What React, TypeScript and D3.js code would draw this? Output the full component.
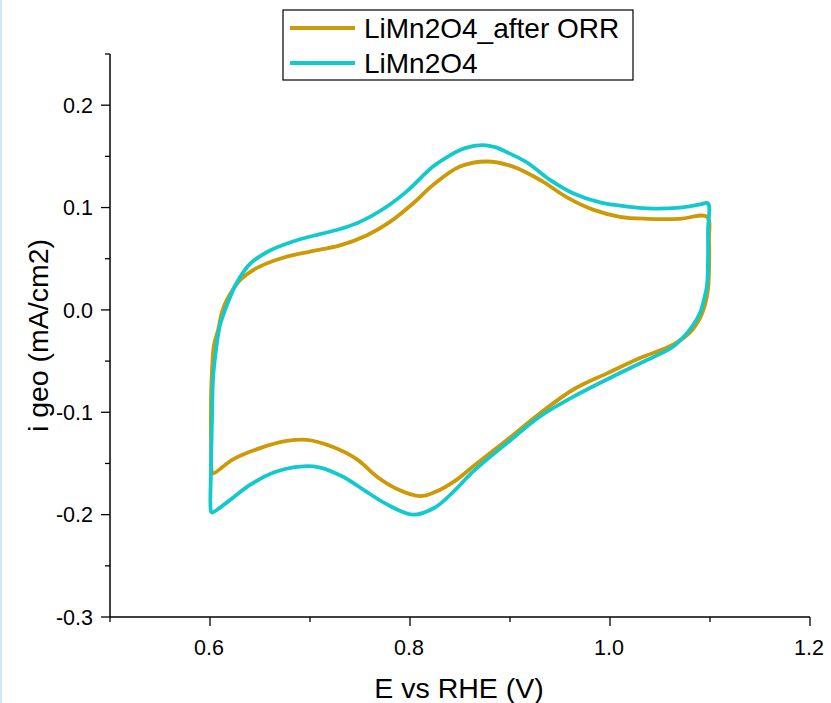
import React from "react";
import * as d3 from "d3";

// LiMn2O4 (pristine) — potential (V vs RHE) and current (mA/cm2), traversed as a closed loop
const pristineE = [0.601, 0.601, 0.602, 0.603, 0.606, 0.610, 0.617, 0.627, 0.640, 0.660, 0.690, 0.710, 0.730, 0.750, 0.777, 0.797, 0.823, 0.840, 0.855, 0.872, 0.885, 0.897, 0.917, 0.940, 0.963, 0.990, 1.017, 1.043, 1.070, 1.090, 1.098, 1.098, 1.098, 1.097, 1.094, 1.090, 1.083, 1.074, 1.063, 1.050, 1.037, 1.003, 0.963, 0.930, 0.897, 0.863, 0.843, 0.825, 0.803, 0.777, 0.757, 0.733, 0.710, 0.690, 0.663, 0.640, 0.617, 0.602];
const pristineI = [-0.197, -0.156, -0.107, -0.068, -0.039, -0.015, 0.005, 0.027, 0.045, 0.058, 0.069, 0.074, 0.079, 0.086, 0.101, 0.116, 0.140, 0.151, 0.158, 0.161, 0.159, 0.154, 0.144, 0.127, 0.114, 0.105, 0.101, 0.099, 0.100, 0.103, 0.104, 0.078, 0.049, 0.024, 0.010, -0.003, -0.015, -0.026, -0.036, -0.043, -0.049, -0.065, -0.085, -0.104, -0.130, -0.158, -0.178, -0.193, -0.200, -0.190, -0.178, -0.163, -0.154, -0.153, -0.159, -0.171, -0.188, -0.198];

// LiMn2O4 after ORR
const afterE = [0.602, 0.601, 0.601, 0.602, 0.604, 0.608, 0.612, 0.617, 0.630, 0.647, 0.673, 0.700, 0.730, 0.757, 0.780, 0.803, 0.823, 0.850, 0.877, 0.903, 0.930, 0.957, 0.983, 1.010, 1.037, 1.070, 1.097, 1.099, 1.099, 1.098, 1.095, 1.090, 1.080, 1.063, 1.030, 0.997, 0.963, 0.930, 0.897, 0.863, 0.845, 0.825, 0.810, 0.787, 0.767, 0.747, 0.723, 0.697, 0.677, 0.650, 0.623, 0.603];
const afterI = [-0.159, -0.127, -0.088, -0.059, -0.034, -0.020, -0.002, 0.010, 0.029, 0.041, 0.051, 0.057, 0.063, 0.073, 0.086, 0.104, 0.122, 0.140, 0.145, 0.140, 0.127, 0.110, 0.098, 0.091, 0.089, 0.089, 0.091, 0.068, 0.039, 0.020, 0.005, -0.008, -0.022, -0.034, -0.047, -0.062, -0.078, -0.101, -0.127, -0.153, -0.167, -0.178, -0.182, -0.175, -0.163, -0.146, -0.134, -0.127, -0.128, -0.135, -0.146, -0.160];

const seriesNames = ["LiMn2O4_after ORR", "LiMn2O4"];
const seriesColors = ["#cc9a06", "#12c9cc"];

const xMajorTicks = [0.6, 0.8, 1.0, 1.2];
const xMinorTicks = [0.5, 0.7, 0.9, 1.1];
const yMajorTicks = [-0.3, -0.2, -0.1, 0.0, 0.1, 0.2];
const yMinorTicks = [-0.25, -0.15, -0.05, 0.05, 0.15, 0.25];

const W = 831;
const H = 703;
const FONT = "'Liberation Sans', Arial, sans-serif";

export default function App() {
  const x = d3.scaleLinear().domain([0.5, 1.2]).range([110, 810]);
  const y = d3.scaleLinear().domain([-0.3, 0.25]).range([617, 54]);

  const line = d3
    .line<[number, number]>()
    .x((d) => x(d[0]))
    .y((d) => y(d[1]))
    .curve(d3.curveCatmullRomClosed.alpha(0.5));

  const series = [
    { pts: afterE.map((e, i) => [e, afterI[i]] as [number, number]), color: seriesColors[0] },
    { pts: pristineE.map((e, i) => [e, pristineI[i]] as [number, number]), color: seriesColors[1] },
  ];

  const x0 = x.range()[0];
  const x1 = x.range()[1];
  const yb = y.range()[0];
  const yt = y.range()[1];

  return (
    <svg
      width={W}
      height={H}
      style={{ position: "absolute", left: 0, top: 0, background: "#fff" }}
      fontFamily={FONT}
    >
      <rect x={0} y={0} width={W} height={H} fill="#fff" />
      <rect x={0} y={0} width={2} height={H} fill="#d6e6f6" />

      {series.map((s, i) => (
        <path
          key={i}
          d={line(s.pts) || ""}
          fill="none"
          stroke={s.color}
          strokeWidth={3.8}
          strokeLinejoin="round"
        />
      ))}

      {/* axes */}
      <line x1={x0} x2={x1} y1={yb} y2={yb} stroke="#000" strokeWidth={1.5} />
      <line x1={x0} x2={x0} y1={yt} y2={yb} stroke="#000" strokeWidth={1.5} />

      {xMajorTicks.map((t) => (
        <g key={"xm" + t}>
          <line x1={x(t)} x2={x(t)} y1={yb} y2={yb + 9} stroke="#000" strokeWidth={1.3} />
          <text x={x(t) - 1} y={655} textAnchor="middle" fontSize={21.5} fill="#000">
            {t.toFixed(1)}
          </text>
        </g>
      ))}
      {xMinorTicks.map((t) => (
        <line key={"xn" + t} x1={x(t)} x2={x(t)} y1={yb} y2={yb + 5} stroke="#000" strokeWidth={1.3} />
      ))}

      {yMajorTicks.map((t) => (
        <g key={"ym" + t}>
          <line x1={x0 - 9} x2={x0} y1={y(t)} y2={y(t)} stroke="#000" strokeWidth={1.3} />
          <text x={x0 - 17} y={y(t) + 7.7} textAnchor="end" fontSize={21.5} fill="#000">
            {t.toFixed(1)}
          </text>
        </g>
      ))}
      {yMinorTicks.map((t) => (
        <line key={"yn" + t} x1={x0 - 5} x2={x0} y1={y(t)} y2={y(t)} stroke="#000" strokeWidth={1.3} />
      ))}

      <text x={459} y={698} textAnchor="middle" fontSize={28.5} fill="#000">
        E vs RHE (V)
      </text>
      <text
        transform={`translate(48, ${(yt + yb) / 2}) rotate(-90)`}
        textAnchor="middle"
        fontSize={28.5}
        fill="#000"
      >
        i geo (mA/cm2)
      </text>

      {/* legend */}
      <rect x={283} y={10} width={350} height={70} fill="#fff" stroke="#000" strokeWidth={1.2} />
      {seriesNames.map((name, i) => (
        <g key={name}>
          <line x1={290} x2={355} y1={28 + i * 35} y2={28 + i * 35} stroke={seriesColors[i]} strokeWidth={4} />
          <text x={364} y={38 + i * 35} fontSize={28} fill="#000">
            {name}
          </text>
        </g>
      ))}
    </svg>
  );
}
